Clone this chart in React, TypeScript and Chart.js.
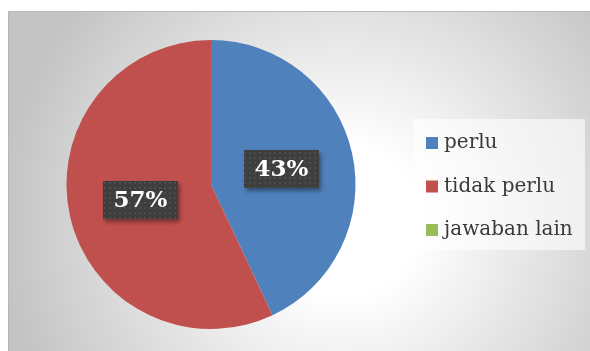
import React, { useEffect, useRef } from "react";
import { Chart, registerables } from "chart.js";

Chart.register(...registerables);

const categories = ["perlu", "tidak perlu", "jawaban lain"];
const values = [43, 57, 0];
const colors = ["#4F81BD", "#C0504D", "#9BBB59"];
const percentLabels = ["43%", "57%", ""];

function makePattern(ctx: CanvasRenderingContext2D) {
  const c = document.createElement("canvas");
  c.width = 5;
  c.height = 5;
  const p = c.getContext("2d")!;
  p.fillStyle = "#3e3e3e";
  p.fillRect(0, 0, 5, 5);
  p.fillStyle = "#4d4d4d";
  p.fillRect(1, 1, 2, 2);
  return ctx.createPattern(c, "repeat")!;
}

const bgPlugin = {
  id: "bgPlugin",
  beforeDraw(chart: any) {
    const { ctx, width, height } = chart;
    ctx.save();
    const g = ctx.createRadialGradient(335, 210, 0, 335, 210, 340);
    g.addColorStop(0, "#ffffff");
    g.addColorStop(0.22, "#ffffff");
    g.addColorStop(1, "#c4c4c4");
    ctx.fillStyle = g;
    ctx.fillRect(0, 0, width, height);
    ctx.strokeStyle = "#b8b8b8";
    ctx.lineWidth = 1;
    ctx.beginPath();
    ctx.moveTo(0.5, height);
    ctx.lineTo(0.5, 0.5);
    ctx.lineTo(width, 0.5);
    ctx.stroke();
    ctx.restore();
  },
};

const labelsPlugin = {
  id: "labelsPlugin",
  afterDatasetsDraw(chart: any) {
    const { ctx } = chart;
    const meta = chart.getDatasetMeta(0);
    const pattern = makePattern(ctx);
    meta.data.forEach((arc: any, i: number) => {
      const txt = percentLabels[i];
      if (!txt || !values[i]) return;
      const pos = arc.tooltipPosition();
      const w = 75;
      const h = 38;
      const x = Math.round(pos.x - w / 2);
      const y = Math.round(pos.y - h / 2);
      ctx.save();
      ctx.shadowColor = "rgba(0,0,0,0.4)";
      ctx.shadowOffsetX = 2;
      ctx.shadowOffsetY = 3;
      ctx.shadowBlur = 4;
      ctx.fillStyle = pattern;
      ctx.fillRect(x, y, w, h);
      ctx.restore();
      ctx.save();
      ctx.fillStyle = "#ffffff";
      ctx.font = "bold 23px 'DejaVu Serif'";
      ctx.textAlign = "center";
      ctx.textBaseline = "middle";
      ctx.fillText(txt, pos.x, pos.y + 1);
      ctx.restore();
    });
  },
};

const legendPlugin = {
  id: "legendPlugin",
  afterDraw(chart: any) {
    const { ctx } = chart;
    const bx = 405;
    const by = 108;
    const bw = 172;
    const bh = 131;
    ctx.save();
    ctx.fillStyle = "rgba(255,255,255,0.6)";
    ctx.fillRect(bx, by, bw, bh);
    const ds = chart.data.datasets[0];
    chart.data.labels.forEach((lab: string, i: number) => {
      const cy = 132 + i * 43.5;
      ctx.fillStyle = ds.backgroundColor[i];
      ctx.fillRect(418, cy - 6, 12, 12);
      ctx.fillStyle = "#3a3a3a";
      ctx.font = "20px 'DejaVu Serif'";
      ctx.textBaseline = "middle";
      ctx.textAlign = "left";
      ctx.fillText(lab, 436, cy);
    });
    ctx.restore();
  },
};

export default function App() {
  const ref = useRef<HTMLCanvasElement>(null);
  useEffect(() => {
    if (!ref.current) return;
    const chart = new Chart(ref.current, {
      type: "pie",
      data: {
        labels: categories,
        datasets: [
          {
            data: values,
            backgroundColor: colors,
            borderWidth: 0,
          },
        ],
      },
      options: {
        animation: false,
        responsive: false,
        rotation: 0,
        layout: { padding: { top: 29, bottom: 22, left: 58.5, right: 234.5 } },
        plugins: {
          legend: { display: false },
          tooltip: { enabled: false },
        },
      },
      plugins: [bgPlugin, labelsPlugin, legendPlugin],
    });
    return () => chart.destroy();
  }, []);
  return (
    <div style={{ position: "absolute", left: 8, top: 11, width: 582, height: 340 }}>
      <canvas ref={ref} width={582} height={340} style={{ display: "block" }} />
    </div>
  );
}
